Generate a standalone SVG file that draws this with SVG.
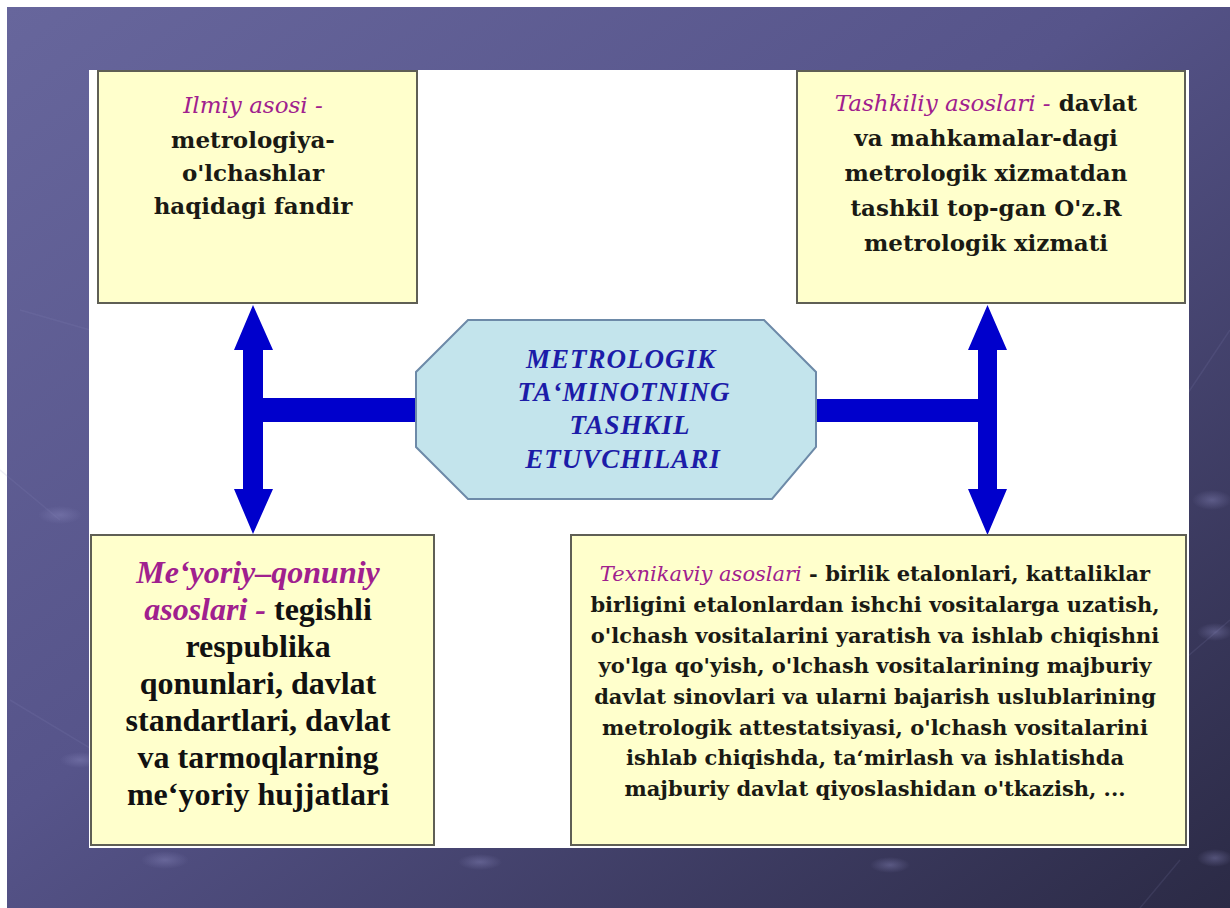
<svg xmlns="http://www.w3.org/2000/svg" width="1230" height="908" viewBox="0 0 1230 908">
  <defs>
    <linearGradient id="bg" x1="0" y1="0" x2="1" y2="1">
      <stop offset="0" stop-color="#67669c"/>
      <stop offset="0.45" stop-color="#56548a"/>
      <stop offset="1" stop-color="#2b2a45"/>
    </linearGradient>
    <radialGradient id="bub" cx="0.5" cy="0.5" r="0.5">
      <stop offset="0" stop-color="#8c8bc0" stop-opacity="0.4"/>
      <stop offset="1" stop-color="#8c8bc0" stop-opacity="0"/>
    </radialGradient>
    <style>
      .box { fill: #ffffcc; stroke: #5f5f55; stroke-width: 2; }
      .oct { fill: #c3e4ec; stroke: #6d8aa8; stroke-width: 2; }
      .conn { fill: #0000cc; }
      .t1 { font-family: "DejaVu Serif", "Liberation Serif", serif; font-weight: bold; font-size: 23px; fill: #1a1a14; text-anchor: middle; }
      .t2 { font-family: "DejaVu Serif", "Liberation Serif", serif; font-weight: bold; font-size: 21px; fill: #1a1a14; text-anchor: middle; }
      .t3 { font-family: "Liberation Serif", "Times New Roman", serif; font-weight: bold; font-size: 32px; fill: #111; text-anchor: middle; }
      .em { font-style: italic; font-weight: normal; fill: #a0208e; }
      .em3 { font-style: italic; font-weight: bold; fill: #a0208e; }
      .ct { font-family: "Liberation Serif", "Times New Roman", serif; font-weight: bold; font-style: italic; font-size: 27px; letter-spacing: 1px; fill: #1c1ca8; text-anchor: middle; }
      .bl { fill: none; stroke: #8c8bc0; stroke-opacity: 0.14; stroke-width: 1.5; }
    </style>
  </defs>

  <!-- background -->
  <rect x="0" y="0" width="1230" height="908" fill="#ffffff"/>
  <rect x="7" y="7" width="1223" height="901" fill="url(#bg)"/>
  <g id="decor">
    <path class="bl" d="M0 470 L60 520 M10 700 L110 760 L200 830 M1230 330 L1170 420 M1230 620 L1160 680 M1180 860 L1140 908 M20 310 L90 330"/>
    <ellipse cx="60" cy="515" rx="22" ry="9" fill="url(#bub)"/>
    <ellipse cx="80" cy="760" rx="20" ry="8" fill="url(#bub)"/>
    <ellipse cx="165" cy="860" rx="24" ry="9" fill="url(#bub)"/>
    <ellipse cx="480" cy="862" rx="22" ry="8" fill="url(#bub)"/>
    <ellipse cx="1212" cy="500" rx="20" ry="10" fill="url(#bub)"/>
    <ellipse cx="1215" cy="632" rx="18" ry="9" fill="url(#bub)"/>
    <ellipse cx="1215" cy="858" rx="18" ry="9" fill="url(#bub)"/>
    <ellipse cx="890" cy="865" rx="20" ry="8" fill="url(#bub)"/>
  </g>

  <!-- white panel -->
  <rect x="89" y="70" width="1100" height="778" fill="#ffffff"/>

  <!-- connectors -->
  <g id="connectors">
    <polygon class="conn" points="253,305 273,350 263,350 263,489 273,489 253,534 234,489 243,489 243,350 234,350"/>
    <rect class="conn" x="262" y="398" width="155" height="24"/>
    <polygon class="conn" points="987.5,305 1007,350 997,350 997,489 1007,489 987.5,535 968,489 978,489 978,350 968,350"/>
    <rect class="conn" x="815" y="399" width="164" height="23"/>
  </g>

  <g id="node-ilmiy">
    <rect class="box" x="98" y="71" width="319" height="232"/>
    <text class="t1" x="253" y="113"><tspan class="em">Ilmiy asosi -</tspan></text>
    <text class="t1" x="253" y="148">metrologiya-</text>
    <text class="t1" x="253" y="181">o'lchashlar</text>
    <text class="t1" x="253" y="214">haqidagi fandir</text>
  </g>

  <g id="node-tashkiliy">
    <rect class="box" x="797" y="71" width="388" height="232"/>
    <text class="t1" x="986" y="111"><tspan class="em">Tashkiliy asoslari -</tspan> davlat</text>
    <text class="t1" x="986" y="146">va mahkamalar-dagi</text>
    <text class="t1" x="986" y="181">metrologik xizmatdan</text>
    <text class="t1" x="986" y="216">tashkil top-gan O'z.R</text>
    <text class="t1" x="986" y="251">metrologik xizmati</text>
  </g>

  <g id="node-center">
    <polygon class="oct" points="468,320 764,320 816,372 816,447 772,499 468,499 416,447 416,372"/>
    <text class="ct" x="621" y="368">METROLOGIK</text>
    <text class="ct" x="624" y="401">TA‘MINOTNING</text>
    <text class="ct" x="630" y="434">TASHKIL</text>
    <text class="ct" x="623" y="468">ETUVCHILARI</text>
  </g>

  <g id="node-meyoriy">
    <rect class="box" x="91" y="535" width="343" height="310"/>
    <text class="t3" x="258" y="583"><tspan class="em3">Me‘yoriy–qonuniy</tspan></text>
    <text class="t3" x="258" y="620"><tspan class="em3">asoslari -</tspan> tegishli</text>
    <text class="t3" x="258" y="657">respublika</text>
    <text class="t3" x="258" y="694">qonunlari, davlat</text>
    <text class="t3" x="258" y="731">standartlari, davlat</text>
    <text class="t3" x="258" y="768">va tarmoqlarning</text>
    <text class="t3" x="258" y="805">me‘yoriy hujjatlari</text>
  </g>

  <g id="node-texnikaviy">
    <rect class="box" x="571" y="535" width="615" height="310"/>
    <text class="t2" x="875" y="581"><tspan class="em">Texnikaviy asoslari</tspan> - birlik etalonlari, kattaliklar</text>
    <text class="t2" x="875" y="612">birligini etalonlardan ishchi vositalarga uzatish,</text>
    <text class="t2" x="875" y="643">o'lchash vositalarini yaratish va ishlab chiqishni</text>
    <text class="t2" x="875" y="673">yo'lga qo'yish, o'lchash vositalarining majburiy</text>
    <text class="t2" x="875" y="704">davlat sinovlari va ularni bajarish uslublarining</text>
    <text class="t2" x="875" y="735">metrologik attestatsiyasi, o'lchash vositalarini</text>
    <text class="t2" x="875" y="765">ishlab chiqishda, ta‘mirlash va ishlatishda</text>
    <text class="t2" x="875" y="796">majburiy davlat qiyoslashidan o'tkazish, ...</text>
  </g>
</svg>
